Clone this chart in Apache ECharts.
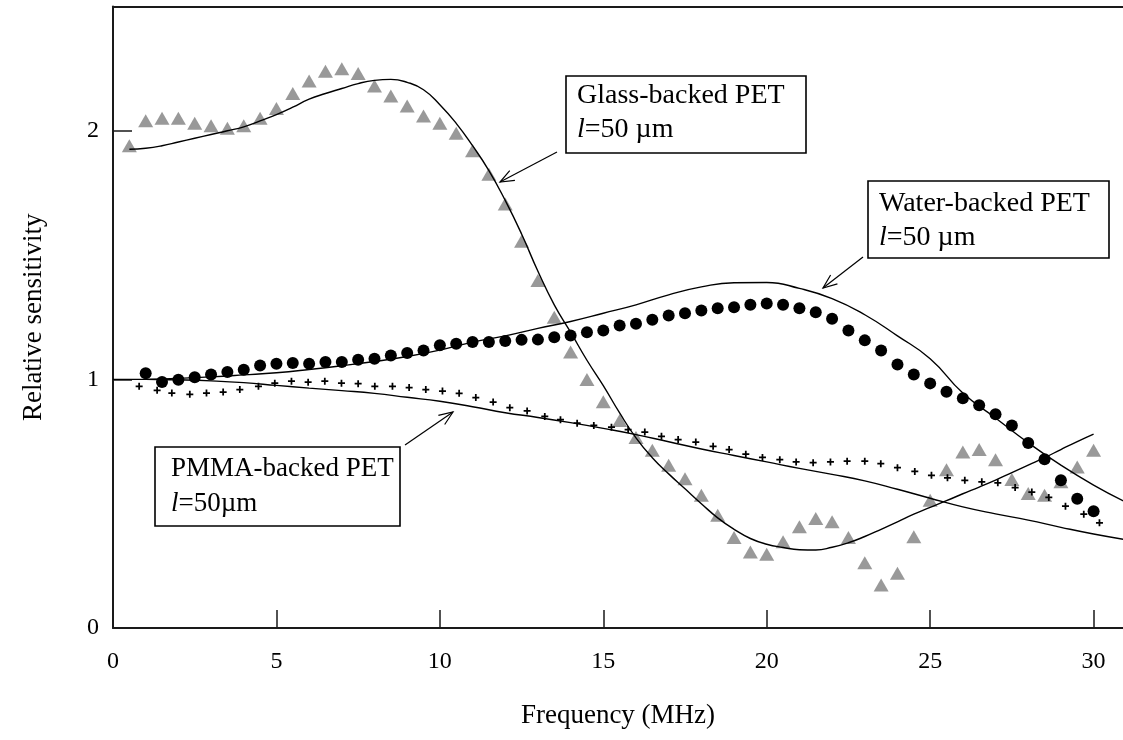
<!DOCTYPE html>
<html>
<head>
<meta charset="utf-8">
<script src="https://cdn.jsdelivr.net/npm/echarts@6/dist/echarts.min.js"></script>
<style>
  html, body { margin: 0; padding: 0; background: #fff; }
  #chart { width: 1123px; height: 740px; }
</style>
</head>
<body>
<div id="chart"></div>
<script>
// measured points, glass-backed PET (grey triangles)
const glassFreq = [0.5, 1, 1.5, 2, 2.5, 3, 3.5, 4, 4.5, 5,
  5.5, 6, 6.5, 7, 7.5, 8, 8.5, 9, 9.5, 10,
  10.5, 11, 11.5, 12, 12.5, 13, 13.5, 14, 14.5, 15,
  15.5, 16, 16.5, 17, 17.5, 18, 18.5, 19, 19.5, 20,
  20.5, 21, 21.5, 22, 22.5, 23, 23.5, 24, 24.5, 25,
  25.5, 26, 26.5, 27, 27.5, 28, 28.5, 29, 29.5, 30]
const glassSens = [1.94, 2.04, 2.05, 2.05, 2.03, 2.02, 2.01, 2.02, 2.05, 2.09,
  2.15, 2.20, 2.24, 2.25, 2.23, 2.18, 2.14, 2.10, 2.06, 2.03,
  1.99, 1.92, 1.825, 1.706, 1.556, 1.398, 1.25, 1.11, 1.0, 0.91,
  0.835, 0.766, 0.715, 0.655, 0.60, 0.534, 0.454, 0.364, 0.306, 0.297,
  0.347, 0.407, 0.44, 0.427, 0.364, 0.262, 0.173, 0.22, 0.367, 0.514,
  0.637, 0.708, 0.718, 0.677, 0.597, 0.541, 0.534, 0.588, 0.648, 0.715]

// model curve, glass-backed
const glassFitFreq = glassFreq
const glassFitSens = [1.926, 1.93, 1.94, 1.955, 1.97, 1.985, 2.0, 2.016, 2.04, 2.065,
  2.095, 2.127, 2.15, 2.17, 2.19, 2.203, 2.207, 2.195, 2.165, 2.105,
  2.03, 1.94, 1.84, 1.72, 1.585, 1.435, 1.30, 1.19, 1.077, 0.975,
  0.865, 0.765, 0.685, 0.62, 0.56, 0.50, 0.443, 0.397, 0.36, 0.337,
  0.324, 0.315, 0.314, 0.325, 0.343, 0.368, 0.397, 0.427, 0.458, 0.485,
  0.512, 0.54, 0.567, 0.595, 0.625, 0.655, 0.685, 0.718, 0.75, 0.78]

// measured points, water-backed PET (black dots)
const waterFreq = [1, 1.5, 2, 2.5, 3, 3.5, 4, 4.5, 5, 5.5,
  6, 6.5, 7, 7.5, 8, 8.5, 9, 9.5, 10, 10.5,
  11, 11.5, 12, 12.5, 13, 13.5, 14, 14.5, 15, 15.5,
  16, 16.5, 17, 17.5, 18, 18.5, 19, 19.5, 20, 20.5,
  21, 21.5, 22, 22.5, 23, 23.5, 24, 24.5, 25, 25.5,
  26, 26.5, 27, 27.5, 28, 28.5, 29, 29.5, 30]
const waterSens = [1.025, 0.99, 0.999, 1.009, 1.02, 1.03, 1.039, 1.056, 1.063, 1.066,
  1.063, 1.07, 1.07, 1.079, 1.083, 1.096, 1.106, 1.116, 1.137, 1.143,
  1.15, 1.15, 1.154, 1.159, 1.16, 1.17, 1.177, 1.19, 1.197, 1.217,
  1.224, 1.24, 1.257, 1.266, 1.277, 1.286, 1.29, 1.30, 1.305, 1.30,
  1.286, 1.27, 1.244, 1.197, 1.157, 1.116, 1.06, 1.02, 0.984, 0.95,
  0.924, 0.896, 0.86, 0.815, 0.744, 0.679, 0.594, 0.52, 0.47]

const waterFitFreq = [1, 2, 3, 4, 5, 6, 7, 8, 9, 10, 11, 12, 13, 14, 15, 16,
  17, 18, 19, 20, 21, 22, 23, 24, 25, 26, 27, 28, 29, 30, 31]
const waterFitSens = [1.0, 1.004, 1.01, 1.018, 1.027, 1.04, 1.055, 1.072, 1.092, 1.118, 1.15, 1.175, 1.205, 1.233, 1.266, 1.30,
  1.34, 1.372, 1.389, 1.39, 1.366, 1.325, 1.26, 1.175, 1.083, 0.945, 0.845, 0.745, 0.655, 0.575, 0.505]

// measured points, PMMA-backed PET (small crosses)
const pmmaFreq = [0.8, 1.35, 1.8, 2.35, 2.86, 3.37, 3.88, 4.45, 4.95, 5.46,
  5.97, 6.48, 6.99, 7.5, 8.01, 8.55, 9.06, 9.57, 10.08, 10.59,
  11.1, 11.63, 12.14, 12.67, 13.21, 13.69, 14.2, 14.71, 15.25, 15.76,
  16.27, 16.78, 17.29, 17.83, 18.36, 18.85, 19.36, 19.87, 20.4, 20.9,
  21.42, 21.95, 22.46, 23.0, 23.49, 24.0, 24.53, 25.04, 25.53, 26.06,
  26.58, 27.07, 27.6, 28.11, 28.63, 29.14, 29.7, 30.18]
const pmmaSens = [0.972, 0.956, 0.945, 0.94, 0.945, 0.949, 0.959, 0.972, 0.985, 0.993,
  0.989, 0.993, 0.985, 0.983, 0.972, 0.972, 0.967, 0.959, 0.953, 0.944,
  0.927, 0.909, 0.886, 0.873, 0.851, 0.838, 0.824, 0.815, 0.808, 0.798,
  0.788, 0.771, 0.758, 0.748, 0.731, 0.718, 0.699, 0.686, 0.677, 0.668,
  0.665, 0.668, 0.671, 0.671, 0.661, 0.645, 0.63, 0.614, 0.604, 0.594,
  0.588, 0.584, 0.565, 0.547, 0.525, 0.49, 0.458, 0.423]

const pmmaFitFreq = [0, 1, 2, 3, 4, 5, 6, 7, 8, 9, 10, 11, 12, 13, 14, 15,
  16, 17, 18, 19, 20, 21, 22, 23, 24, 25, 26, 27, 28, 29, 30, 31]
const pmmaFitSens = [1.0, 1.0, 0.998, 0.994, 0.987, 0.976, 0.965, 0.955, 0.944, 0.928, 0.912, 0.89, 0.866, 0.847, 0.826, 0.803,
  0.778, 0.749, 0.72, 0.694, 0.668, 0.642, 0.618, 0.592, 0.558, 0.522, 0.487, 0.459, 0.434, 0.405, 0.378, 0.355]

const xTicks = [5, 10, 15, 20, 25, 30]
const xLabels = [0, 5, 10, 15, 20, 25, 30]
const yTicks = [1, 2]
const yLabels = [0, 1, 2]

const serif = "'Liberation Serif', 'Times New Roman', serif"
const axisColor = '#1a1a1a'

const zip = (xs, ys) => xs.map((x, i) => [x, ys[i]])

function fitLine(xs, ys) {
  return {
    type: 'line',
    data: zip(xs, ys),
    smooth: true,
    symbol: 'none',
    lineStyle: { color: '#000', width: 1.4 },
    z: 3
  }
}

// boxed labels with arrows pointing at the curves
function note(box, lines, from, to, size, pad) {
  const els = [{
    type: 'rect',
    shape: box,
    style: { fill: '#fff', stroke: '#000', lineWidth: 1.6 },
    z: 10
  }]
  lines.forEach(([text, y]) => {
    els.push({
      type: 'text',
      x: box.x + pad,
      y: y,
      style: {
        text: text,
        fontFamily: serif,
        fontSize: size,
        fill: '#000',
        verticalAlign: 'middle',
        rich: { i: { fontStyle: 'italic', fontFamily: serif, fontSize: size } }
      },
      z: 11
    })
  })
  const a = Math.atan2(to[1] - from[1], to[0] - from[0])
  const L = 15, w = 0.38
  els.push({
    type: 'polyline',
    shape: { points: [from, to] },
    style: { stroke: '#000', lineWidth: 1.2, fill: null },
    z: 10
  })
  els.push({
    type: 'polyline',
    shape: {
      points: [
        [to[0] - L * Math.cos(a - w), to[1] - L * Math.sin(a - w)],
        to,
        [to[0] - L * Math.cos(a + w), to[1] - L * Math.sin(a + w)]
      ]
    },
    style: { stroke: '#000', lineWidth: 1.2, fill: null },
    z: 10
  })
  return els
}

const graphics = [].concat(
  note({ x: 566, y: 76, width: 240, height: 77 },
    [['Glass-backed PET', 96], ['{i|l}=50 µm', 130]], [557, 152], [500, 182], 28, 11),
  note({ x: 868, y: 181, width: 241, height: 77 },
    [['Water-backed PET', 204], ['{i|l}=50 µm', 238]], [863, 257], [823, 288], 28, 11),
  note({ x: 155, y: 447, width: 245, height: 79 },
    [['PMMA-backed PET', 469], ['{i|l}=50µm', 504]], [405, 445], [453, 412], 27, 16)
)

const chart = echarts.init(document.getElementById('chart'))
chart.setOption({
  animation: false,
  backgroundColor: '#fff',
  grid: { left: 113, right: 0, top: 6.5, bottom: 112 },
  xAxis: [{
    type: 'value',
    min: 0,
    max: 30.9,
    position: 'bottom',
    axisLine: { show: true, onZero: false, lineStyle: { color: axisColor, width: 2 } },
    axisTick: { show: true, inside: true, length: 18, customValues: xTicks, lineStyle: { color: axisColor, width: 1.5 } },
    axisLabel: { customValues: xLabels, margin: 22, fontFamily: serif, fontSize: 24, color: '#000' },
    splitLine: { show: false },
    name: 'Frequency (MHz)',
    nameLocation: 'middle',
    nameGap: 74,
    nameTextStyle: { fontFamily: serif, fontSize: 27, color: '#000' }
  }, {
    type: 'value',
    min: 0,
    max: 30.9,
    position: 'top',
    axisLine: { show: true, onZero: false, lineStyle: { color: axisColor, width: 2 } },
    axisTick: { show: false },
    axisLabel: { show: false },
    splitLine: { show: false }
  }],
  yAxis: {
    type: 'value',
    min: 0,
    max: 2.5,
    axisLine: { show: true, onZero: false, lineStyle: { color: axisColor, width: 2 } },
    axisTick: { show: true, inside: true, length: 19, customValues: yTicks, lineStyle: { color: axisColor, width: 1.5 } },
    axisLabel: { customValues: yLabels, margin: 14, fontFamily: serif, fontSize: 24, color: '#000' },
    splitLine: { show: false },
    name: 'Relative sensitivity',
    nameLocation: 'middle',
    nameGap: 66,
    nameTextStyle: { fontFamily: serif, fontSize: 27, color: '#000' }
  },
  series: [
    {
      type: 'scatter',
      data: zip(glassFreq, glassSens),
      symbol: 'triangle',
      symbolSize: [15, 13],
      itemStyle: { color: '#808080' },
      z: 2
    },
    fitLine(glassFitFreq, glassFitSens),
    {
      type: 'scatter',
      data: zip(waterFreq, waterSens),
      symbol: 'circle',
      symbolSize: 12,
      itemStyle: { color: '#000', opacity: 1 },
      z: 4
    },
    fitLine(waterFitFreq, waterFitSens),
    {
      type: 'scatter',
      data: zip(pmmaFreq, pmmaSens),
      symbol: 'path://M3,0h2v3h3v2h-3v3h-2v-3h-3v-2h3z',
      symbolSize: 7,
      itemStyle: { color: '#000', opacity: 1 },
      z: 4
    },
    fitLine(pmmaFitFreq, pmmaFitSens)
  ],
  graphic: graphics
})
</script>
</body>
</html>
